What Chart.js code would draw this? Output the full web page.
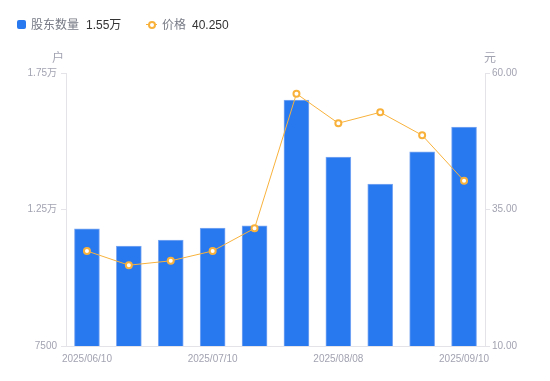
<!DOCTYPE html>
<html>
<head>
<meta charset="utf-8">
<script src="https://cdn.jsdelivr.net/npm/chart.js@4/dist/chart.umd.min.js"></script>
<style>
  html, body { margin: 0; padding: 0; background: #fff; }
  body { width: 550px; height: 381px; position: relative; overflow: hidden;
         font-family: 'Liberation Sans', 'Noto Sans CJK SC', sans-serif; }
  #wrap { position: absolute; left: 0; top: 0; width: 550px; height: 381px; }
  .lg { position: absolute; font-size: 12px; line-height: 14px; top: 18px; white-space: nowrap; }
  .lbl { color: #777a85; }
  .val { color: #333; }
  #sq { position: absolute; left: 17px; top: 20px; width: 9px; height: 9px; background: #2878f0; border-radius: 2px; }
  #ln { position: absolute; left: 146px; top: 24px; width: 11px; height: 1px; background: #f8b23c; }
  #dot { position: absolute; left: 148px; top: 21px; width: 4px; height: 4px; border: 2px solid #f8b23c; border-radius: 50%; background: #fff; }
</style>
</head>
<body>
<div id="wrap"><canvas id="c" width="550" height="381"></canvas></div>
<div id="sq"></div>
<span class="lg lbl" style="left:31px">股东数量</span>
<span class="lg val" style="left:86px">1.55万</span>
<div id="ln"></div><div id="dot"></div>
<span class="lg lbl" style="left:162px">价格</span>
<span class="lg val" style="left:192px">40.250</span>
<script>
const dates = ['2025/06/10','2025/06/20','2025/06/30','2025/07/10','2025/07/20','2025/07/31','2025/08/08','2025/08/20','2025/08/29','2025/09/10'];
const holders = [11790, 11160, 11380, 11820, 11900, 16510, 14420, 13430, 14610, 15520];
const prices = [27.4, 24.8, 25.6, 27.4, 31.55, 56.2, 50.8, 52.8, 48.6, 40.25];
const shownLabels = [0, 3, 6, 9];
const leftTicks = [7500, 12500, 17500];
const rightTicks = [10, 35, 60];

const tickColor = '#a2a3b1';
const axisColor = '#e3e3e8';
const font = { family: "'Liberation Sans', 'Noto Sans CJK SC', sans-serif", size: 10 };

const axisTitles = {
  id: 'axisTitles',
  afterDraw(chart) {
    const ctx = chart.ctx;
    ctx.save();
    ctx.fillStyle = tickColor;
    ctx.font = "12px 'Liberation Sans', 'Noto Sans CJK SC', sans-serif";
    ctx.textAlign = 'center';
    ctx.textBaseline = 'middle';
    const top = chart.chartArea.top;
    ctx.fillText('户', chart.scales.y.right - 8, top - 14);
    ctx.fillText('元', chart.scales.y1.left + 5, top - 14);
    ctx.restore();
  }
};

new Chart(document.getElementById('c'), {
  data: {
    labels: dates,
    datasets: [
      {
        type: 'line', label: '价格', data: prices, yAxisID: 'y1', order: 0,
        borderColor: '#f8b23c', borderWidth: 1, tension: 0,
        pointRadius: 3, pointBorderWidth: 2, pointBackgroundColor: '#fff', pointBorderColor: '#f8b23c'
      },
      {
        type: 'bar', label: '股东数量', data: holders, yAxisID: 'y', order: 1,
        backgroundColor: '#2878f0', borderColor: '#7eaaf3', borderWidth: {top: 1, left: 1, right: 1, bottom: 0},
        barThickness: 25
      }
    ]
  },
  options: {
    responsive: false, animation: false,
    layout: { padding: { top: 73, left: 0, right: 0, bottom: 0 } },
    plugins: { legend: { display: false }, tooltip: { enabled: false } },
    scales: {
      x: {
        offset: true,
        grid: { display: true, drawOnChartArea: false, drawTicks: false, color: axisColor },
        border: { display: true, color: axisColor },
        ticks: {
          autoSkip: false, maxRotation: 0, padding: 7, color: tickColor, font,
          callback: (v, i) => shownLabels.includes(i) ? dates[i] : ''
        },
        afterFit: s => { s.height = 35; }
      },
      y: {
        position: 'left', min: 7500, max: 17500,
        grid: { drawOnChartArea: false, drawTicks: true, tickLength: 5, color: axisColor },
        border: { display: true, color: axisColor },
        afterBuildTicks: s => { s.ticks = leftTicks.map(v => ({ value: v })); },
        ticks: {
          padding: 4, color: tickColor, font,
          callback: v => v >= 10000 ? (v / 10000).toFixed(2) + '万' : String(v)
        },
        afterFit: s => { s.width = 66; }
      },
      y1: {
        position: 'right', min: 10, max: 60,
        grid: { drawOnChartArea: false, drawTicks: true, tickLength: 5, color: axisColor },
        border: { display: true, color: axisColor },
        afterBuildTicks: s => { s.ticks = rightTicks.map(v => ({ value: v })); },
        ticks: { padding: 2, color: tickColor, font, callback: v => Number(v).toFixed(2) },
        afterFit: s => { s.width = 65; }
      }
    }
  },
  plugins: [axisTitles]
});
</script>
</body>
</html>
